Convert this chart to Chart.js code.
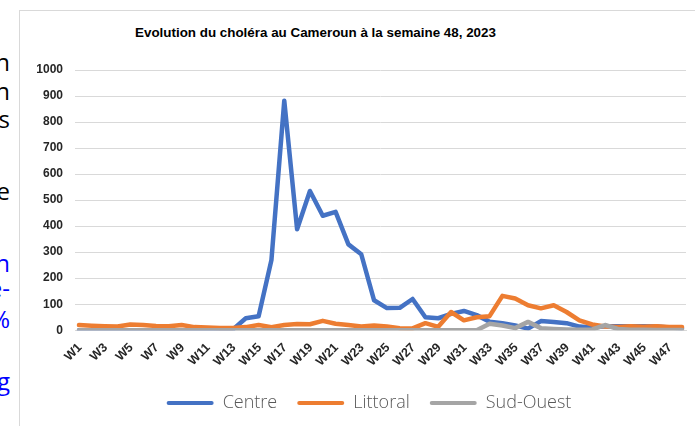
<!DOCTYPE html>
<html>
<head>
<meta charset="utf-8">
<script src="https://cdn.jsdelivr.net/npm/chart.js@4.4.1/dist/chart.umd.min.js"></script>
<style>
html,body{margin:0;padding:0;background:#fff;}
body{width:695px;height:426px;position:relative;overflow:hidden;}
#frame{position:absolute;left:19px;top:10px;width:700px;height:440px;border:1px solid #d9d9d9;box-sizing:border-box;}
#wrap{position:absolute;left:0;top:0;width:695px;height:426px;}
#title{position:absolute;left:135px;top:25px;font:bold 13.4px "Liberation Sans",Arial,sans-serif;color:#000;white-space:nowrap;}
#side{position:absolute;left:0;top:0;width:14px;height:426px;overflow:hidden;}
#side div{position:absolute;right:4px;white-space:nowrap;font:24px "Open Sans",sans-serif;line-height:28px;color:#000;}
#side div.b{color:#0000ff;}
</style>
</head>
<body>
<div id="side">
  <div style="top:48px">n</div>
  <div style="top:77px">n</div>
  <div style="top:105px">s</div>
  <div style="top:177px">e</div>
  <div class="b" style="top:249px">n</div>
  <div class="b" style="top:274px">e-</div>
  <div class="b" style="top:305px">%</div>
  <div class="b" style="top:367px">g</div>
</div>
<div id="frame"></div>
<div id="title">Evolution du choléra au Cameroun à la semaine 48, 2023</div>
<div id="wrap"><canvas id="c" width="695" height="426"></canvas></div>
<script>
const weeks = ["W1","W2","W3","W4","W5","W6","W7","W8","W9","W10","W11","W12","W13","W14","W15","W16","W17","W18","W19","W20","W21","W22","W23","W24","W25","W26","W27","W28","W29","W30","W31","W32","W33","W34","W35","W36","W37","W38","W39","W40","W41","W42","W43","W44","W45","W46","W47","W48"];
const centre = [0,0,0,0,0,0,0,0,0,0,0,0,3,46,54,270,882,388,535,440,455,330,292,115,85,86,120,50,46,63,74,58,33,27,18,6,35,32,27,14,10,15,15,15,15,14,10,8];
const littoral = [20,17,15,14,22,20,16,15,20,12,10,9,9,12,20,12,20,24,23,36,25,20,14,18,14,8,7,27,13,70,38,50,54,132,122,96,84,96,70,38,22,14,12,15,13,15,12,12];
const sudOuest = [0,0,0,0,0,0,0,0,0,0,0,0,0,0,0,0,0,0,0,0,0,0,0,0,0,0,0,0,0,0,0,0,25,18,8,32,8,5,3,2,3,20,5,2,2,1,1,1];
const seriesNames = ["Centre","Littoral","Sud-Ouest"];
const yTickValues = [0,100,200,300,400,500,600,700,800,900,1000];

const toPts = arr => arr.map((v,i)=>({x:i+1,y:v}));
const colors = ["#4472C4","#ED7D31","#A5A5A5"];
const seriesData = [centre, littoral, sudOuest];

const datasets = seriesData.map((arr,k)=>({
  label: seriesNames[k],
  data: toPts(arr),
  borderColor: colors[k],
  backgroundColor: colors[k],
  borderWidth: 4.5,
  pointRadius: 0,
  tension: 0,
  borderJoinStyle: 'round',
  borderCapStyle: 'round',
  fill: false,
  order: 3-k
}));

const shiftLegend = {
  id: 'shiftLegend',
  afterLayout(chart) {
    if (chart.legend) { chart.legend.left += 8; chart.legend.right += 8; }
  }
};

new Chart(document.getElementById('c'), {
  type: 'line',
  data: { datasets },
  plugins: [shiftLegend],
  options: {
    responsive: false,
    animation: false,
    events: [],
    layout: { padding: { left: 36, right: 9, top: 70, bottom: 4 } },
    plugins: {
      title: { display: false },
      tooltip: { enabled: false },
      legend: {
        position: 'bottom',
        labels: {
          boxWidth: 47,
          boxHeight: 4,
          padding: 20,
          useBorderRadius: true,
          borderRadius: 2,
          font: { family: "'Open Sans', sans-serif", size: 18, weight: 300 },
          color: '#595959',
          sort: (a,b) => a.datasetIndex - b.datasetIndex,
          generateLabels: chart => chart.data.datasets.map((d,i)=>({
            text: d.label, fillStyle: d.borderColor, strokeStyle: d.borderColor,
            lineWidth: 0, hidden: false, datasetIndex: i, fontColor: '#595959', borderRadius: 2
          }))
        }
      }
    },
    scales: {
      x: {
        type: 'linear',
        min: 0.69,
        max: 48.31,
        grid: { display: false, drawTicks: false },
        border: { display: true, color: '#d9d9d9', width: 1 },
        afterBuildTicks: axis => {
          axis.ticks = weeks.map((w,i)=>({value:i+1})).filter((t,i)=>i%2===0);
        },
        afterFit: axis => { axis.height -= 5; },
        ticks: {
          autoSkip: false,
          maxRotation: 45,
          minRotation: 45,
          padding: 10,
          labelOffset: 1,
          color: '#262626',
          font: { family: "'Liberation Sans', Arial, sans-serif", size: 12.5, weight: 'bold' },
          callback: v => weeks[Math.round(v)-1]
        }
      },
      y: {
        min: 0,
        max: 1000,
        afterBuildTicks: axis => { axis.ticks = yTickValues.map(v=>({value:v})); },
        afterFit: axis => { axis.width = 39; },
        grid: { color: '#d9d9d9', lineWidth: 1, drawTicks: false },
        border: { display: false },
        ticks: {
          padding: 12,
          color: '#262626',
          font: { family: "'Liberation Sans', Arial, sans-serif", size: 12, weight: 'bold' },
          callback: v => String(v)
        }
      }
    }
  }
});
</script>
</body>
</html>
